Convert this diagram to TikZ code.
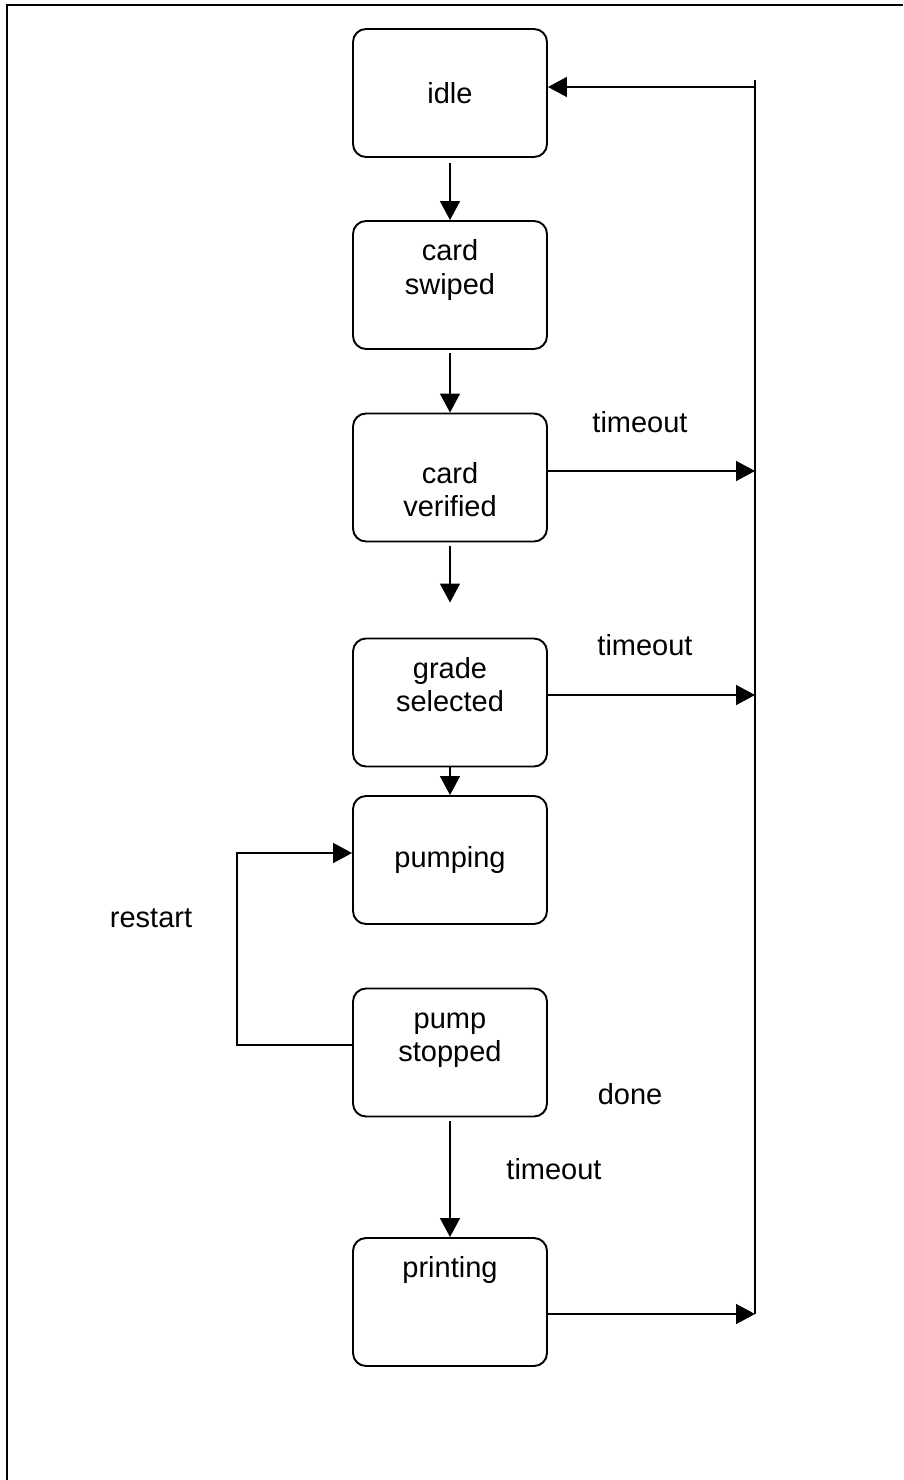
\documentclass[tikz,border=0pt]{standalone}
\usepackage{fontspec}
\setmainfont{Liberation Sans}
\usetikzlibrary{arrows.meta,positioning}

\tikzset{
    state/.style   = {draw, line width=1.1pt, rounded corners=0.26cm,
                      minimum width=3.88cm, minimum height=2.56cm,
                      align=center, inner sep=0pt},
    txtup/.style   = {text height=31pt, text depth=20.5pt},
    txtdown/.style = {text height=48pt, text depth=3.5pt},
    txttop/.style  = {text depth=40pt},
    trans/.style   = {line width=0.85pt, -{Triangle[length=0.38cm, width=0.4cm]}},
    bus/.style     = {line width=0.9pt}
}

\begin{document}
\begin{tikzpicture}[node distance = 3.85cm, on grid, font=\fontsize{16.5}{19}\selectfont]
                \useasboundingbox (0,0) rectangle (18.06,-29.6);
                \draw[line width=1.2pt] (0.14,-29.6) -- (0.14,-0.1) -- (18.06,-0.1);

                \node[state]                                  (idle)     at (9,-1.86) {idle};
                \node[state, txtup, below = 3.84cm of idle]   (swiped)   {card\\swiped};
                \node[state, txtdown, below = of swiped]      (verified) {card\\verified};
                \node[state, txtup, below = 4.5cm of verified](grade)    {grade\\selected};
                \node[state, below = 3.15cm of grade]         (pumping)  {pumping};
                \node[state, txtup, below = of pumping]       (stopped)  {pump\\stopped};
                \node[state, txttop, below = 4.99cm of stopped](printing) {printing};

                % return line to idle
                \coordinate (bustop) at (15.1,-1.6);
                \coordinate (busidle) at (15.1,-1.74);
                \coordinate (busend) at ([yshift=-0.24cm]printing.east -| bustop);
                \draw[bus] (bustop) -- (busend);

                \draw[trans] (busidle) -- (busidle -| idle.east);
                \draw[trans, shorten <=0.1cm] (idle) -- (swiped);
                \draw[trans, shorten <=0.06cm] (swiped) -- (verified);
                \draw[trans, shorten <=0.08cm, shorten >=0.7cm] (verified) -- (grade);
                \draw[trans] (grade) -- (pumping);
                \draw[trans, shorten <=0.08cm] (stopped) -- (printing);

                \draw[trans] ([yshift=0.13cm]verified.east) -- ([yshift=0.13cm]verified.east -| bustop);
                \draw[trans] ([yshift=0.15cm]grade.east) -- ([yshift=0.15cm]grade.east -| bustop);
                \draw[trans] ([yshift=-0.24cm]printing.east) -- (busend);
                \draw[trans] ([yshift=0.15cm]stopped.west) -- ++(-2.3,0) |- ([yshift=0.14cm]pumping.west);

                \node (t_1)  at (12.8,-8.44)  {timeout};
                \node (t_2)  at (12.9,-12.9)  {timeout};
                \node (rst)  at (3.02,-18.36) {restart};
                \node (done) at (12.6,-21.88) {done};
                \node (t_3)  at (11.08,-23.38) {timeout};
\end{tikzpicture}
\end{document}
